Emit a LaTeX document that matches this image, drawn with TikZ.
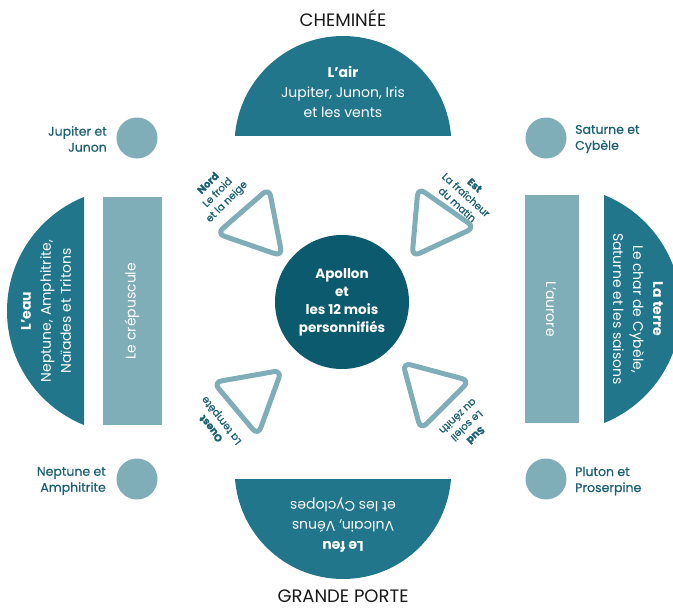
\documentclass[tikz,border=0pt]{standalone}
\usepackage{fontspec}
\setmainfont{Poppins}
\newfontfamily\medfont{Poppins}[FakeBold=0.6]
\usetikzlibrary{calc}
\definecolor{darkteal}{HTML}{22768C}
\definecolor{deepteal}{HTML}{0B5A6E}
\definecolor{lightteal}{HTML}{7FADB8}
\definecolor{labelteal}{HTML}{1B6075}
\begin{document}
\begin{tikzpicture}[x=1pt,y=-1pt,
  segtext/.style={text=white, align=center, inner sep=0pt, font=\fontsize{14}{20}\selectfont},
  cornerlbl/.style={text=labelteal, inner sep=0pt, font=\medfont\fontsize{12.5}{16}\selectfont},
  dirlbl/.style={text=labelteal, align=center, inner sep=0pt, font=\medfont\fontsize{10.2}{13}\selectfont},
  tri/.style={draw=lightteal, line width=5pt, rounded corners=8pt, line join=round},
  bigtitle/.style={font=\fontsize{18}{20}\selectfont, text=black!90, inner sep=0pt, anchor=base}]
\useasboundingbox (0,0) rectangle (673,608);
% half discs
\begin{scope}
  \clip (0,0) rectangle (673,135);
  \fill[darkteal] (343,144.4) circle[radius=108.4pt];
\end{scope}
\begin{scope}
  \clip (0,479) rectangle (673,608);
  \fill[darkteal] (343,470.7) circle[radius=108.3pt];
\end{scope}
\begin{scope}
  \clip (0,0) rectangle (84,608);
  \fill[darkteal] (129.9,311) circle[radius=122.9pt];
\end{scope}
\begin{scope}
  \clip (604,0) rectangle (673,608);
  \fill[darkteal] (558.1,309) circle[radius=122.9pt];
\end{scope}
% bars
\fill[lightteal] (103,197) rectangle (162,425);
\fill[lightteal] (525,195) rectangle (579,423);
% corner circles
\fill[lightteal] (137,138) circle[radius=20.5pt];
\fill[lightteal] (546,138) circle[radius=20.5pt];
\fill[lightteal] (137,479) circle[radius=20.5pt];
\fill[lightteal] (546,479) circle[radius=20.5pt];
% center
\fill[deepteal] (342,302) circle[radius=67pt];
\node[text=white, align=center, inner sep=0pt, font=\bfseries\fontsize{13.5}{18}\selectfont] (apollon) at (342,302) {Apollon\\et\\les 12 mois\\personnifiés};
% triangles
\foreach \cx/\cy/\a/\nm in {256/226/49/tnw, 435/224/125/tne, 251/396/-40/tsw, 431/391/-135/tse}{
  \coordinate (\nm) at (\cx,\cy);
  \draw[tri] ($(\nm)+(\a:40)$) -- ($(\nm)+(\a+120:40)$) -- ($(\nm)+(\a+240:40)$) -- cycle;
}
% titles
\node[bigtitle] (chem) at (343,26) {CHEMINÉE};
\node[bigtitle] (porte) at (343,602) {GRANDE PORTE};
% segment texts
\node[segtext] (air) at (343,92) {\textbf{L’air}\\Jupiter, Junon, Iris\\et les vents};
\node[segtext, rotate=180] (feu) at (343,525) {\textbf{Le feu}\\Vulcain, Vénus\\et les Cyclopes};
\node[segtext, rotate=90] (eau) at (46,311) {\textbf{L’eau}\\Neptune, Amphitrite,\\Naïades et Tritons};
\node[segtext, rotate=-90] (terre) at (638,309) {\textbf{La terre}\\Le char de Cybèle,\\Saturne et les saisons};
\node[segtext, rotate=90] (crep) at (132,311) {Le crépuscule};
\node[segtext, rotate=-90] (aur) at (551,309) {L’aurore};
% corner labels
\node[cornerlbl, align=right, anchor=east] (jup) at (107,139) {Jupiter et\\Junon};
\node[cornerlbl, align=left, anchor=west] (sat) at (575,139) {Saturne et\\Cybèle};
\node[cornerlbl, align=right, anchor=east] (nep) at (106,481) {Neptune et\\Amphitrite};
\node[cornerlbl, align=left, anchor=west] (plu) at (575,481) {Pluton et\\Proserpine};
% direction labels
\node[dirlbl, rotate=45] (nord) at (218,193) {\textbf{Nord}\\Le froid\\et la neige};
\node[dirlbl, rotate=-42] (est) at (466,195) {\textbf{Est}\\La fraîcheur\\du matin};
\node[dirlbl, rotate=128] (ouest) at (217,424) {\textbf{Ouest}\\La tempête};
\node[dirlbl, rotate=-137] (sud) at (467,426) {\textbf{Sud}\\Le soleil\\au zénith};
\end{tikzpicture}
\end{document}
